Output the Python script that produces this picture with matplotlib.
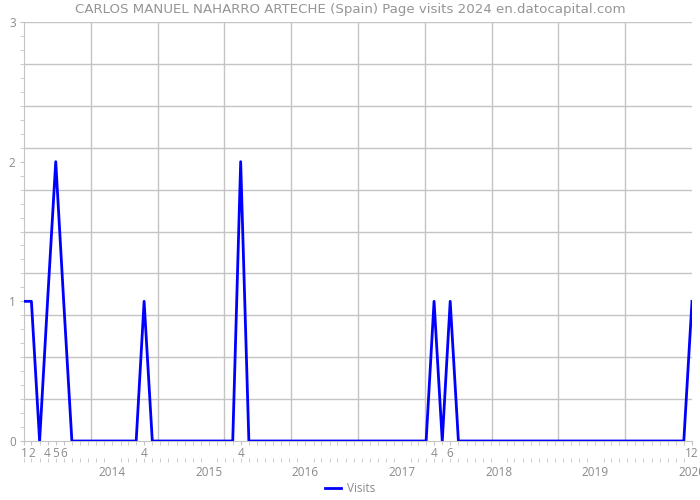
import numpy as np
import pandas as pd
import matplotlib
matplotlib.use("Agg")
import matplotlib.pyplot as plt
from matplotlib.ticker import FixedLocator, MultipleLocator

# monthly visits, Jan..Dec
visits_2013 = [1, 1, 0, 1, 2, 1, 0, 0, 0, 0, 0, 0]
visits_2014 = [0, 0, 0, 1, 0, 0, 0, 0, 0, 0, 0, 0]
visits_2015 = [0, 0, 0, 2, 0, 0, 0, 0, 0, 0, 0, 0]
visits_2016 = [0, 0, 0, 0, 0, 0, 0, 0, 0, 0, 0, 0]
visits_2017 = [0, 0, 0, 1, 0, 1, 0, 0, 0, 0, 0, 0]
visits_2018 = [0, 0, 0, 0, 0, 0, 0, 0, 0, 0, 0, 0]
visits_2019 = [0, 0, 0, 0, 0, 0, 0, 0, 0, 0, 0, 1]
years = [2014, 2015, 2016, 2017, 2018, 2019, 2020]

title = "CARLOS MANUEL NAHARRO ARTECHE (Spain) Page visits 2024 en.datocapital.com"

visits = (visits_2013 + visits_2014 + visits_2015 + visits_2016
          + visits_2017 + visits_2018 + visits_2019)
dates = pd.date_range("2013-01-31", periods=len(visits), freq="ME")
x = matplotlib.dates.date2num(dates)

text_grey = "#8a8a8a"
grid_grey = "#c4c4c4"
plt.rcParams["font.family"] = ["Open Sans", "DejaVu Sans"]

fig = plt.figure(figsize=(7, 5), dpi=100)
ax = fig.add_axes([24 / 700, 1 - 441 / 500, 668 / 700, 419 / 500])

ax.plot(x, visits, color="#0000ff", lw=2, label="Visits", zorder=3)

ax.set_xlim(x[0], x[-1])
ax.set_ylim(0, 3)

# horizontal grid every 0.3, vertical grid in 10 equal parts
for gy in np.arange(0.3, 3.01, 0.3):
    ax.axhline(gy, color=grid_grey, lw=1, zorder=1)
for gx in np.linspace(x[0], x[-1], 11)[1:-1]:
    ax.axvline(gx, color=grid_grey, lw=1, zorder=1)

for side in ["top", "right"]:
    ax.spines[side].set_visible(False)
for side in ["left", "bottom"]:
    ax.spines[side].set_color(grid_grey)

# y ticks
ax.yaxis.set_major_locator(FixedLocator([0, 1, 2, 3]))
ax.yaxis.set_minor_locator(MultipleLocator(0.1))
ax.tick_params(axis="y", which="both", length=3, color=grid_grey,
               labelcolor=text_grey, labelsize=8.5, pad=3)

# x ticks: month numbers where visits > 0
nz = [i for i, v in enumerate(visits) if v > 0]
ax.xaxis.set_major_locator(FixedLocator(x[nz]))
ax.set_xticklabels([str(dates[i].month) for i in nz])
ax.xaxis.set_minor_locator(FixedLocator(x))
ax.tick_params(axis="x", which="both", length=3, color=grid_grey,
               labelcolor=text_grey, labelsize=8.5, pad=1)

# second row: years, placed at the turn of the year (end of December)
sec = ax.secondary_xaxis(-0.04)
sec.spines["bottom"].set_visible(False)
year_pos = matplotlib.dates.date2num(
    [pd.Timestamp(f"{y - 1}-12-31") for y in years])
sec.xaxis.set_major_locator(FixedLocator(year_pos))
sec.set_xticklabels([str(y) for y in years])
sec.xaxis.set_minor_locator(FixedLocator(x))
sec.tick_params(axis="x", which="major", length=0, labelcolor=text_grey,
                labelsize=8.5, pad=6)
sec.tick_params(axis="x", which="minor", length=3, color=grid_grey)

fig.text(0.5, 1 - 10 / 500, title, ha="center", va="center",
         color="#959595", fontsize=9.6, family="DejaVu Sans")

fig.legend(loc="center", bbox_to_anchor=(0.5, 1 - 489 / 500), frameon=False,
           fontsize=8.5, labelcolor=text_grey, handlelength=1.4,
           handletextpad=0.5)

fig.savefig("out.png", dpi=100)
